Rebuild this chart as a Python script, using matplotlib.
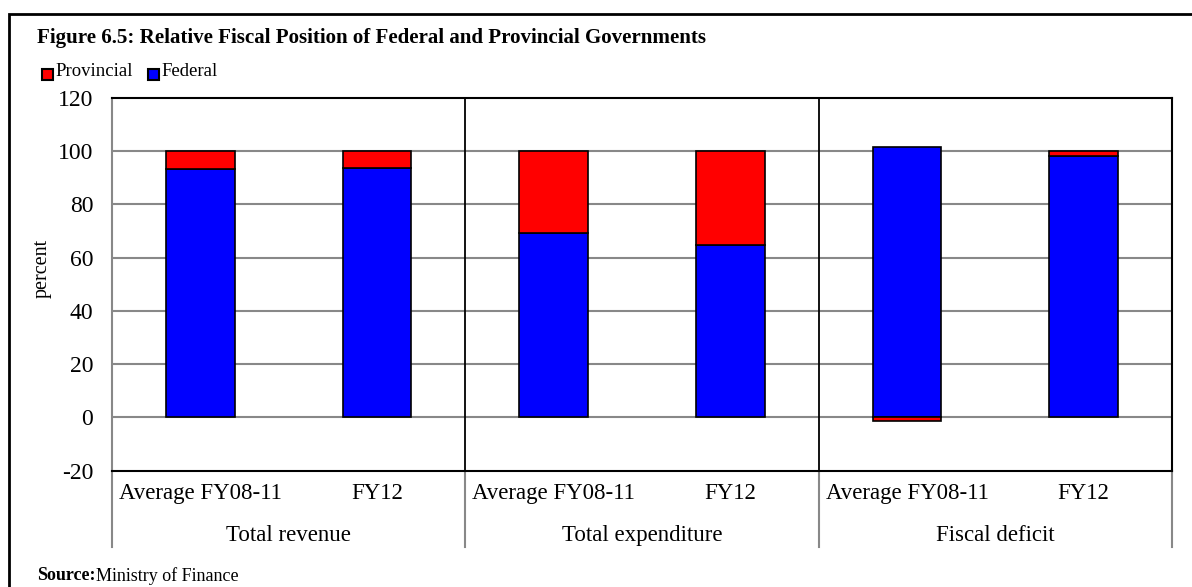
import matplotlib.pyplot as plt
import numpy as np
from matplotlib.patches import Rectangle

plt.rcParams["font.family"] = ["Liberation Serif", "DejaVu Serif"]
plt.rcParams["axes.unicode_minus"] = False

groups = ["Total revenue", "Total expenditure", "Fiscal deficit"]
periods = ["Average FY08-11", "FY12"]
federal = [93.1, 93.7, 69.4, 64.9, 101.4, 98.3]
provincial = [6.9, 6.3, 30.6, 35.1, -1.4, 1.7]

W, H = 1192, 587
fig = plt.figure(figsize=(W / 100, H / 100), dpi=100, facecolor="white")

# outer frame of the box (runs off the right and bottom edges)
fig.add_artist(Rectangle((9 / W, -0.05), 1.2, 1 - 14 / H + 0.05, transform=fig.transFigure,
                         fill=False, ec="black", lw=2))

x0, x1, y0, y1 = 112, 1172, 470.7, 97.7
ax = fig.add_axes([x0 / W, 1 - y0 / H, (x1 - x0) / W, (y0 - y1) / H])

x = np.arange(len(federal))
fed = np.array(federal)
prov = np.array(provincial)
prov_bottom = np.where(prov >= 0, np.maximum(fed, 0), 0)
ax.bar(x, fed, width=0.39, color="#0000ff", edgecolor="black", lw=1.2, zorder=3)
ax.bar(x, prov, width=0.39, bottom=prov_bottom, color="#ff0000", edgecolor="black", lw=1.2, zorder=3)

ax.set_xlim(-0.5, len(federal) - 0.5)
ax.set_ylim(-20, 120)
ax.set_yticks(np.arange(-20, 121, 20))
ax.tick_params(axis="y", length=0, labelsize=17, pad=13.5)
ax.set_xticks([])
for yv in range(0, 101, 20):
    ax.axhline(yv, color="#888888", lw=1.5, zorder=1)
for sep in [1.5, 3.5]:
    ax.axvline(sep, color="black", lw=1.3, zorder=2)
for side in ["top", "right", "bottom"]:
    ax.spines[side].set_color("black")
    ax.spines[side].set_linewidth(1.5)
ax.spines["left"].set_color("#888888")
ax.spines["left"].set_linewidth(1.5)
fig.text(42 / W, 1 - 268 / H, "percent", rotation=90, fontsize=14.5, ha="center", va="center")

# two-level category labels
trans = ax.get_xaxis_transform()
for i, xi in enumerate(x):
    ax.text(xi, -0.06, periods[i % 2], transform=trans, ha="center", va="center", fontsize=16.5)
for g, name in enumerate(groups):
    ax.text(2 * g + 0.5, -0.175, name, transform=trans, ha="center", va="center", fontsize=16.5)
for xb in [-0.5, 1.5, 3.5, 5.5]:
    ax.plot([xb, xb], [0, -0.205], transform=trans, color="#888888", lw=1.5, clip_on=False)

fig.text(37 / W, 1 - 38 / H, "Figure 6.5: Relative Fiscal Position of Federal and Provincial Governments",
         fontsize=15.1, fontweight="bold", va="center", ha="left")

# legend
for lx, label, col in [(42, "Provincial", "#ff0000"), (148, "Federal", "#0000ff")]:
    fig.add_artist(Rectangle((lx / W, 1 - 80 / H), 11 / W, 11 / H, transform=fig.transFigure,
                             fc=col, ec="black", lw=1.5))
    fig.text((lx + 13) / W, 1 - 71 / H, label, fontsize=13.5, va="center", ha="left")

fig.text(37 / W, 1 - 576 / H, "Source:", fontsize=13, fontweight="bold", va="center", ha="left")
fig.text(96 / W, 1 - 576 / H, "Ministry of Finance", fontsize=13, va="center", ha="left")

fig.savefig("out.png", dpi=100, facecolor="white")
